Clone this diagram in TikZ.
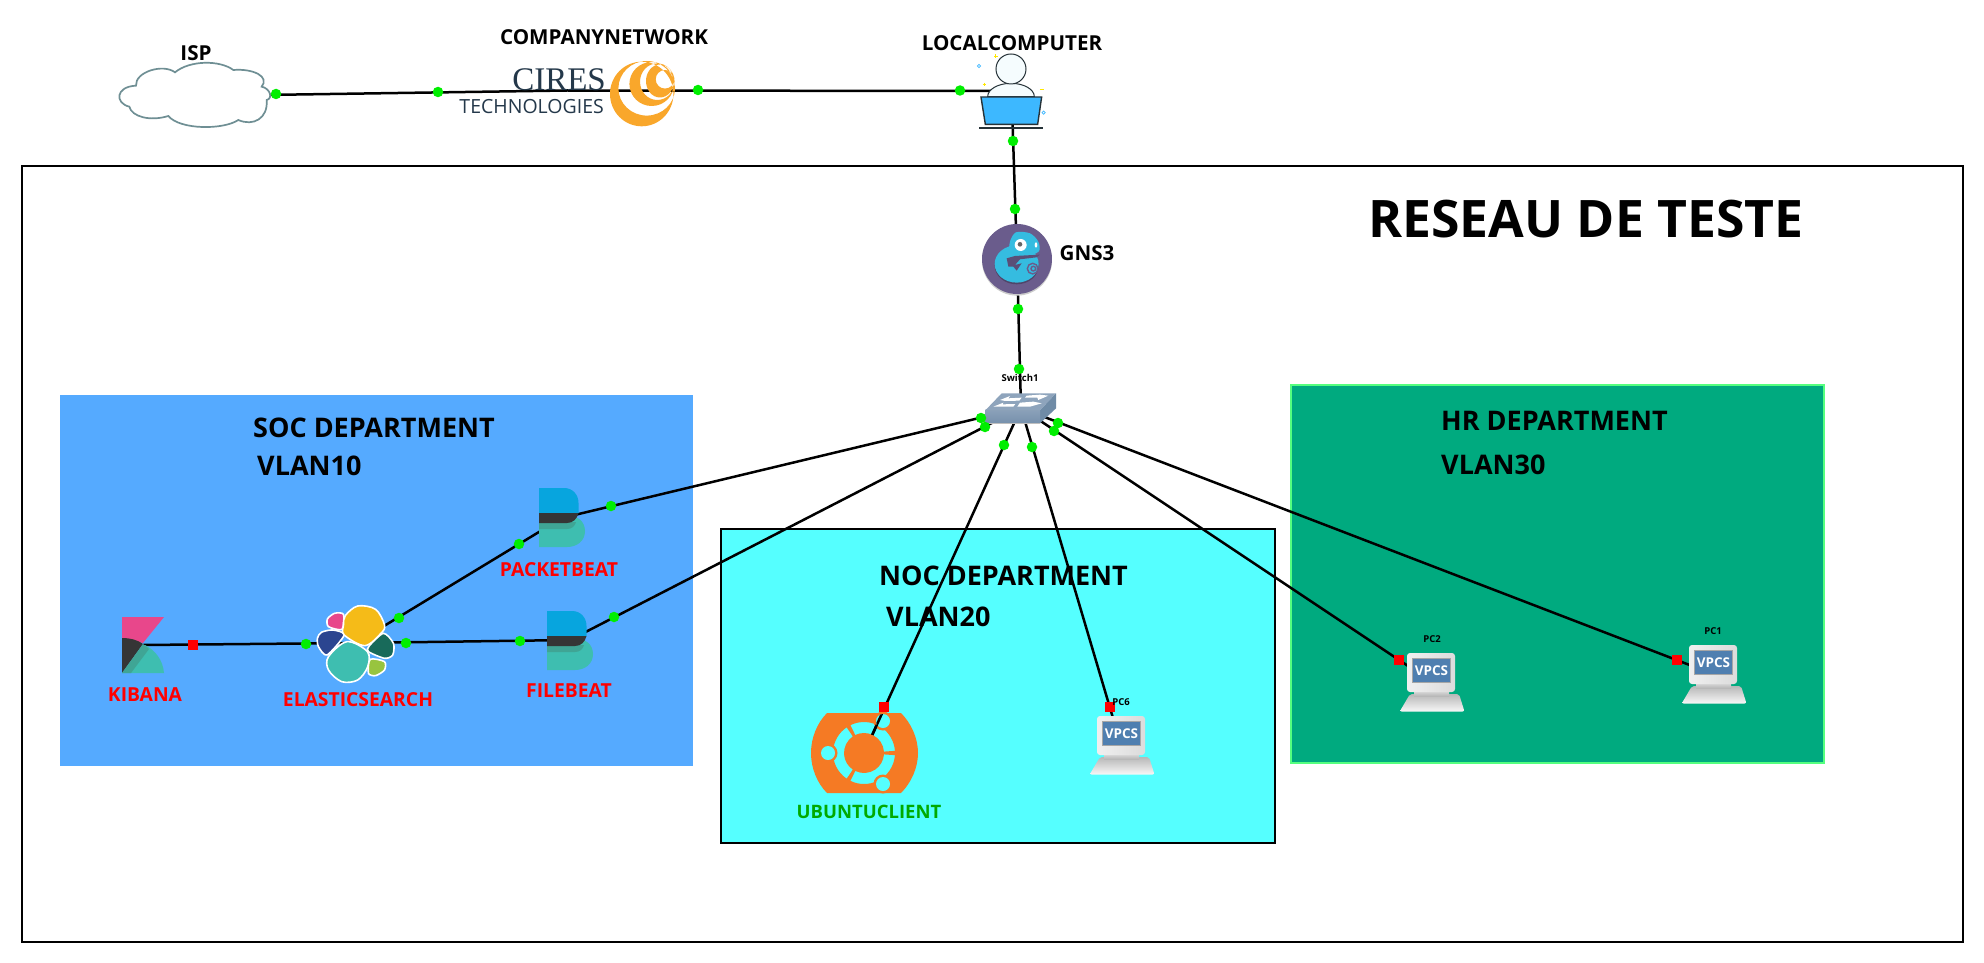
\documentclass[tikz,border=0pt]{standalone}
\usepackage{fontspec}
\setmainfont{Open Sans}
\newfontfamily\serifcires{Liberation Serif}
\definecolor{socblue}{HTML}{55AAFF}
\definecolor{noccyan}{HTML}{55FFFF}
\definecolor{hrgreen}{HTML}{00AA7F}
\definecolor{hredge}{HTML}{55FF7F}
\definecolor{portgreen}{HTML}{00EE00}
\definecolor{cloudedge}{HTML}{6F8F94}
\definecolor{ciresnavy}{HTML}{24384A}
\definecolor{ciresorange}{HTML}{F9A72B}
\definecolor{ubuorange}{HTML}{F57A24}
\definecolor{labelred}{HTML}{FF0000}
\definecolor{labelgreen}{HTML}{00AA00}
\definecolor{gnspurple}{HTML}{6A5C8C}
\definecolor{gnscyan}{HTML}{35BCE0}
\definecolor{laptopblue}{HTML}{3DB8FF}
\definecolor{inkdark}{HTML}{263238}
\definecolor{beatblue}{HTML}{07A5DE}
\definecolor{beatdark}{HTML}{353535}
\definecolor{beatteal}{HTML}{3EBEB0}
\definecolor{beatmid}{HTML}{3FA595}
\definecolor{kibpink}{HTML}{E8478B}
\definecolor{screenblue}{HTML}{4F7FB0}
\definecolor{esnavy}{HTML}{2B4590}
\definecolor{esdark}{HTML}{186A5A}
\definecolor{eslime}{HTML}{98C43F}
\definecolor{esyellow}{HTML}{F5BB18}
\definecolor{swtop}{HTML}{8EA4BC}
\definecolor{swfront}{HTML}{7690AC}
\definecolor{swside}{HTML}{6F8BA6}
\tikzset{
  link/.style={draw=black,line width=2.5pt},
  gport/.style={circle,fill=portgreen,inner sep=0pt,minimum size=10.5pt},
  rport/.style={rectangle,fill=red,inner sep=0pt,minimum size=10.5pt},
  anchorbox/.style={inner sep=0pt,outer sep=0pt,rectangle},
  ttl/.style={font=\fontsize{20.6}{22}\selectfont\bfseries,text=black,inner sep=0pt},
  dept/.style={font=\fontsize{27}{29}\selectfont\bfseries,text=black,inner sep=0pt,anchor=west},
  redlbl/.style={font=\fontsize{19.3}{20}\selectfont\bfseries,text=labelred,inner sep=0pt},
  tinylbl/.style={font=\fontsize{9.5}{10}\selectfont\bfseries,text=black,inner sep=0pt},
  vpcsicon/.pic={
    \path[top color=black!28,bottom color=black!3,rounded corners=2pt] (3,41) -- (52,41) -- (57.5,58.5) -- (-7.3,58.5) -- cycle;
    \path[top color=black!12,bottom color=black!28] (7,37) rectangle (42,43);
    \path[left color=black!6,right color=black!14,rounded corners=3pt] (0,0) rectangle (48,39);
    \fill[black!35] (5,5) rectangle (44,30);
    \fill[screenblue] (6,6) rectangle (43,29);
    \node[font=\fontsize{13.5}{14}\selectfont\bfseries,text=white,inner sep=0pt] at (24.5,18) {VPCS};
  },
  beaticon/.pic={
    \fill[beatteal] (0,27) -- (26,27) .. controls (38,27) and (46,33) .. (46,43) .. controls (46,53) and (38,59) .. (28,59) -- (0,59) -- cycle;
    \fill[beatmid] (0,34) -- (37,34) .. controls (36,38) and (33,41) .. (28,41) -- (0,41) -- cycle;
    \fill[beatblue] (0,0) -- (25,0) .. controls (34,0) and (39.5,7) .. (39.5,15) -- (39.5,25) -- (0,25) -- cycle;
    \fill[beatdark] (0,25) -- (39.5,25) .. controls (38,31) and (34,35) .. (28,35) -- (0,35) -- cycle;
  }
}
\begin{document}
\begin{tikzpicture}[x=1pt,y=-1pt]
\useasboundingbox (0,0) rectangle (1984,963);
\fill[white] (0,0) rectangle (1984,963);
% areas
\node[anchorbox,draw=black,line width=2pt,minimum width=1941pt,minimum height=776pt,anchor=north west] (frame) at (21.5,165.7) {};
\node[anchorbox,fill=socblue,minimum width=633pt,minimum height=371pt,anchor=north west] (soc) at (60,395) {};
\node[anchorbox,fill=noccyan,draw=black,line width=1.6pt,minimum width=554pt,minimum height=314pt,anchor=north west] (noc) at (721,529) {};
\node[anchorbox,fill=hrgreen,draw=hredge,line width=1.6pt,minimum width=533pt,minimum height=378pt,anchor=north west] (hr) at (1291,385) {};
% device anchors
\node[anchorbox] (isp) at (195,96) {};
\node[anchorbox] (cires) at (567,90.5) {};
\node[anchorbox] (local) at (1011.5,91) {};
\node[anchorbox] (gns) at (1017,259) {};
\node[anchorbox] (switch) at (1021,408) {};
\node[anchorbox] (kibana) at (143,645) {};
\node[anchorbox] (elastic) at (356,643) {};
\node[anchorbox] (packet) at (562,518) {};
\node[anchorbox] (file) at (570,640) {};
\node[anchorbox] (ubuntu) at (864,753) {};
\node[anchorbox] (pcsix) at (1121,745) {};
\node[anchorbox] (pctwo) at (1432,682) {};
\node[anchorbox] (pcone) at (1713,674) {};
% links
\draw[link] (isp.center) -- (cires.center);
\draw[link] (cires.center) -- (local.center);
\draw[link] (local.center) -- (gns.center);
\draw[link] (gns.center) -- (switch.center);
\draw[link] (kibana.center) -- (elastic.center);
\draw[link] (elastic.center) -- (packet.center);
\draw[link] (elastic.center) -- (file.center);
\draw[link] (packet.center) -- (switch.center);
\draw[link] (file.center) -- (switch.center);
\draw[link] (ubuntu.center) -- (switch.center);
\draw[link] (pcsix.center) -- (switch.center);
\draw[link] (pctwo.center) -- (switch.center);
\draw[link] (pcone.center) -- (switch.center);
% cloud
\begin{scope}[shift={(110,55)},x=0.3333pt,y=-0.3333pt]
  \path[draw=cloudedge,fill=white,line width=1.7pt]
    (195,52) .. controls (240,15) and (330,15) .. (370,45)
    .. controls (430,40) and (480,65) .. (455,95)
    .. controls (480,100) and (490,130) .. (470,135)
    .. controls (475,190) and (430,215) .. (385,195)
    .. controls (340,225) and (210,225) .. (175,183)
    .. controls (120,200) and (65,185) .. (58,155)
    .. controls (15,145) and (15,95) .. (78,92)
    .. controls (75,50) and (160,25) .. (195,52) -- cycle;
\end{scope}
% CIRES logo
\node[inner sep=0pt,anchor=east,text=ciresnavy,font=\fontsize{33}{34}\serifcires\selectfont] (ciresword) at (606,80) {CIRES};
\node[inner sep=0pt,anchor=east,text=ciresnavy,font=\fontsize{19.5}{20}\selectfont] (ciresword2) at (604,107) {TECHNOLOGIES};
\fill[ciresorange,even odd rule] (641.7,94) ellipse [x radius=31.7,y radius=32.3]
   (646.7,88.3) ellipse [x radius=28.3,y radius=27.3]
   (651.7,84) ellipse [x radius=22.3,y radius=22]
   (657.3,81.7) ellipse [x radius=17.3,y radius=18.3]
   (660,81) ellipse [x radius=14,y radius=16.5]
   (665,79.3) ellipse [x radius=9.3,y radius=9.3];
% local computer
\begin{scope}[shift={(900,0)},x=0.3333pt,y=-0.3333pt]
  \draw[draw=inkdark,line width=1pt,fill=cyan!4] (263,290) arc[start angle=180,end angle=360,x radius=70,y radius=40] -- cycle;
  \draw[draw=inkdark,line width=1pt,fill=cyan!4] (333,207) circle[radius=45];
  \draw[draw=inkdark,line width=1.4pt,fill=laptopblue] (243,291) -- (425,291) -- (413,373) -- (256,373) -- cycle;
  \draw[draw=inkdark,line width=2pt] (238,384) -- (428,384);
  \draw[yellow!90!orange,line width=.7pt] (282,168) -- (293,168) (287,163) -- (287,173) (248,253) -- (259,253) (254,248) -- (254,258) (420,267) -- (431,267);
  \draw[laptopblue,line width=.7pt] (237,198) circle[radius=5] (431,338) circle[radius=5];
\end{scope}
% GNS3
\begin{scope}[shift={(900,0)},x=0.3333pt,y=-0.3333pt]
  \fill[black!20] (351,782) circle[radius=105];
  \fill[gnspurple] (351,777) circle[radius=105];
  \fill[gnspurple!75!black] (350,797) ellipse [x radius=66,y radius=56];
  \fill[gnscyan] (350,792) ellipse [x radius=66,y radius=56];
  \fill[gnscyan] plot[smooth cycle] coordinates {(330,725) (348,697) (390,700) (415,725) (416,755) (370,772) (330,765)};
  \fill[gnspurple!85!black] (320,775) -- (345,768) -- (420,764) -- (410,772) -- (360,778) -- (345,795) -- (365,790) -- (350,812) -- (340,800) -- (325,800) -- cycle;
  \draw[gnspurple,line width=1.4pt] (400,806) circle[radius=7] (398,806) circle[radius=16];
  \fill[white] (362,735) circle[radius=18];
  \fill[black!60] (360,733) circle[radius=7];
  \fill[white] (408,735) ellipse [x radius=4,y radius=8];
\end{scope}
% switch
\begin{scope}[shift={(940,360)},x=0.3333pt,y=-0.3333pt]
  \fill[swside] (300,150) -- (348,100) -- (348,145) -- (300,190) -- cycle;
  \shade[top color=swfront!85!white,bottom color=swfront] (137,150) rectangle (300,190);
  \fill[black!25] (137,190) rectangle (300,193);
  \fill[swtop] (185,100) -- (348,100) -- (300,150) -- (137,150) -- cycle;
  \fill[white] (180,120) -- (210,108) -- (205,115) -- (245,113) -- (238,122) -- (195,123) -- cycle
               (325,107) -- (295,120) -- (292,113) -- (255,113) -- (260,107) -- (300,104) -- cycle
               (160,140) -- (190,128) -- (188,133) -- (226,132) -- (220,140) -- cycle
               (305,130) -- (270,140) -- (232,140) -- (240,128) -- (280,125) -- cycle;
\end{scope}
% kibana
\fill[kibpink] (122,617) -- (164,617) -- (143,643) -- (122,638) -- cycle;
\fill[beatteal] (145,645) .. controls (155,650) and (163,660) .. (164,673) -- (122,673) -- cycle;
\fill[beatdark] (122,638) .. controls (130,638) and (138,640) .. (143,644) -- (122,673) -- cycle;
\fill[beatmid] (143,644) .. controls (145,645) and (147,647) .. (149,649) -- (131,673) -- (122,673) -- cycle;
% elasticsearch
\begin{scope}[shift={(90,470)},x=0.357pt,y=-0.3333pt]
  \tikzset{esblob/.style={draw=white,line width=1.6pt}}
  \filldraw[esblob,fill=kibpink] plot[smooth cycle,tension=.45] coordinates {(665,447) (685,430) (710,433) (706,478) (668,470)};
  \filldraw[esblob,fill=esnavy] plot[smooth cycle,tension=.45] coordinates {(648,487) (680,480) (712,495) (664,555) (640,530) (637,505)};
  \filldraw[esblob,fill=beatteal] plot[smooth cycle,tension=.55] coordinates {(720,515) (777,545) (778,590) (750,630) (705,635) (668,600) (668,560)};
  \filldraw[esblob,fill=esdark] plot[smooth cycle,tension=.45] coordinates {(822,490) (850,520) (848,555) (825,565) (780,545) (782,528)};
  \filldraw[esblob,fill=eslime] plot[smooth cycle,tension=.45] coordinates {(785,568) (825,575) (825,600) (800,617) (780,610)};
  \filldraw[esblob,fill=esyellow] plot[smooth cycle,tension=.55] coordinates {(715,437) (750,408) (800,418) (825,465) (815,490) (770,527) (712,495) (710,465)};
\end{scope}
% beats
\pic at (539,488) {beaticon};
\pic at (547,611) {beaticon};
% ubuntu
\fill[ubuorange,even odd rule]
  (827,713) -- (901,713) .. controls (911,723) and (918,738) .. (918,753) .. controls (918,768) and (911,783) .. (901,793) -- (827,793) .. controls (817,783) and (811,768) .. (811,753) .. controls (811,738) and (817,723) .. (827,713) -- cycle
  (864,753) ++(4:31) arc[start angle=4,end angle=116,radius=31] -- ++(296:11) arc[start angle=116,end angle=4,radius=20] -- cycle
  (864,753) ++(124:31) arc[start angle=124,end angle=236,radius=31] -- ++(56:11) arc[start angle=236,end angle=124,radius=20] -- cycle
  (864,753) ++(244:31) arc[start angle=244,end angle=356,radius=31] -- ++(176:11) arc[start angle=356,end angle=244,radius=20] -- cycle;
\fill[ubuorange] (883,721) circle[radius=9.5] (828,753) circle[radius=9.5] (883,784) circle[radius=9.5];
\fill[noccyan] (883,721) circle[radius=7] (828,753) circle[radius=7] (883,784) circle[radius=7];
\begin{scope}
  \clip (883,721) circle[radius=7] (864,753) ++(244:31) arc[start angle=244,end angle=356,radius=31] -- ++(176:11) arc[start angle=356,end angle=244,radius=20] -- cycle;
  \draw[link] (ubuntu.center) -- (switch.center);
\end{scope}
% vpcs
\pic at (1097,716) {vpcsicon};
\pic at (1407,653) {vpcsicon};
\pic at (1689,645) {vpcsicon};
% ports
\node[gport] (p1) at (276,94) {};
\node[gport] (p2) at (438,92) {};
\node[gport] (p3) at (698,90) {};
\node[gport] (p4) at (960,90.5) {};
\node[gport] (p5) at (1013,141) {};
\node[gport] (p6) at (1015,209) {};
\node[gport] (p7) at (1018,309) {};
\node[gport] (p8) at (1019,369) {};
\node[gport] (p9) at (981,418) {};
\node[gport] (p10) at (985,427) {};
\node[gport] (p11) at (1004,445) {};
\node[gport] (p12) at (1032,447) {};
\node[gport] (p13) at (1058,423) {};
\node[gport] (p14) at (1054,431) {};
\node[gport] (p15) at (611,506) {};
\node[gport] (p16) at (614,617) {};
\node[gport] (p17) at (519,544) {};
\node[gport] (p18) at (520,641) {};
\node[gport] (p19) at (399,618) {};
\node[gport] (p20) at (406,643) {};
\node[gport] (p21) at (306,644) {};
\node[rport] (r1) at (193,645) {};
\node[rport] (r2) at (884,707) {};
\node[rport] (r3) at (1110,707) {};
\node[rport] (r4) at (1399,660) {};
\node[rport] (r5) at (1677,660) {};
% labels
\node[ttl] (lisp) at (196,53) {ISP};
\node[ttl] (lcomp) at (604,37) {COMPANYNETWORK};
\node[ttl] (lloc) at (1012,43) {LOCALCOMPUTER};
\node[ttl] (lgns) at (1087,253) {GNS3};
\node[font=\fontsize{51.7}{53}\selectfont\bfseries,inner sep=0pt] (ltitle) at (1586,219) {RESEAU DE TESTE};
\node[tinylbl] (lsw) at (1020,378) {Switch1};
\node[dept] (lsoc) at (253,428) {SOC DEPARTMENT};
\node[dept] (lv10) at (257,466) {VLAN10};
\node[dept] (lnoc) at (879,576) {NOC DEPARTMENT};
\node[dept] (lv20) at (886,617) {VLAN20};
\node[dept] (lhr) at (1441,421) {HR DEPARTMENT};
\node[dept] (lv30) at (1441,465) {VLAN30};
\node[redlbl] (lpb) at (559,570) {PACKETBEAT};
\node[redlbl] (lfb) at (569,691) {FILEBEAT};
\node[redlbl] (les) at (358,700) {ELASTICSEARCH};
\node[redlbl] (lkb) at (145,695) {KIBANA};
\node[font=\fontsize{18.5}{19}\selectfont\bfseries,text=labelgreen,inner sep=0pt] (lub) at (869,812) {UBUNTUCLIENT};
\node[tinylbl] (l6) at (1121,702) {PC6};
\node[tinylbl] (l2) at (1432,639) {PC2};
\node[tinylbl] (l1) at (1713,631) {PC1};
\end{tikzpicture}
\end{document}
